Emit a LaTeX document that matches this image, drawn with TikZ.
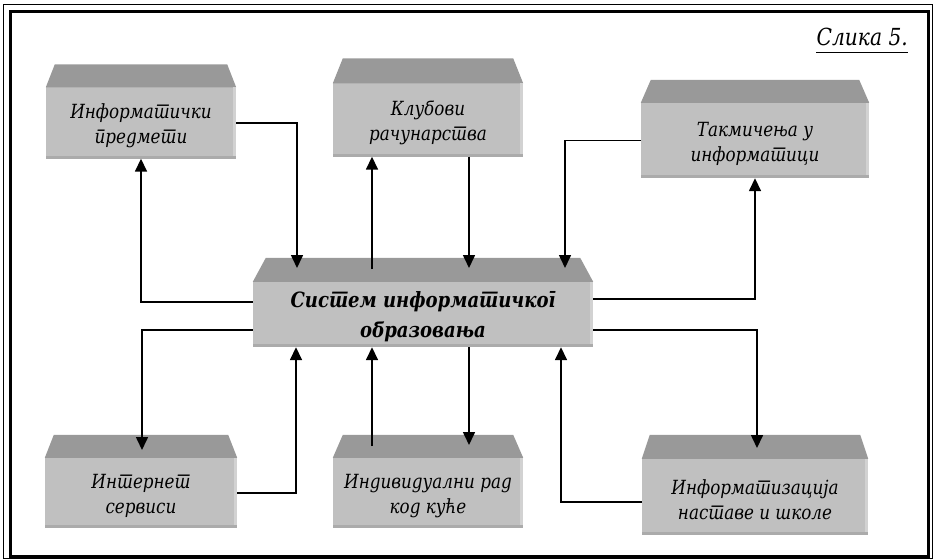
\documentclass[tikz,border=0pt]{standalone}
\usepackage{fontspec}
\setmainfont{DejaVu Serif}[Script=Cyrillic,Language=Serbian,FakeStretch=0.86]
\usetikzlibrary{arrows.meta,calc}

\definecolor{facegray}{HTML}{C0C0C0}
\definecolor{topgray}{HTML}{999999}
\definecolor{edgelight}{HTML}{D2D2D2}
\definecolor{edgedark}{HTML}{ABABAB}

% front face of a block (name, centre, size) with its label set a little low
\newcommand\blockface[8][face]{%
  \node[face, minimum width=#5pt, minimum height=#6pt] (#2) at (#3,#4) {};
  \node[#1] (#2-text) at ($(#2.center)+(0,#7)$) {#8};}
% sloped lid on top of a block and the shaded rims of its front face
\newcommand\blocklid[3]{%
  \fill[topgray] (#1.north west) -- ($(#1.north west)+(#2,-#3)$)
     -- ($(#1.north east)+(-#2,-#3)$) -- (#1.north east) -- cycle;
  \fill[edgelight] ($(#1.north east)+(-3,0)$) rectangle (#1.south east);
  \fill[edgedark] ($(#1.south west)+(0,-3)$) rectangle (#1.south east);}

\begin{document}
\begin{tikzpicture}[x=1pt,y=-1pt,
  face/.style={fill=facegray, draw=none, inner sep=0pt},
  label/.style={inner sep=0pt, align=center,
    font=\itshape\fontsize{19.5}{25}\selectfont},
  mainlabel/.style={label, font=\bfseries\itshape\fontsize{21}{30}\selectfont},
  arr/.style={line width=1.6pt, -{Triangle[length=13pt,width=12pt]}}]

\useasboundingbox (0,0) rectangle (933,559);

% page frame
\draw[line width=1.3pt] (3.5,4.5) rectangle (932.5,558.5);
\draw[line width=3pt] (10,12) rectangle (928.5,556.5);

% caption, underlined with a heavier rule
\node[font=\itshape\fontsize{23.5}{26}\selectfont, anchor=base east, inner sep=0pt]
  (caption) at (908,46) {Слика 5.};
\draw[line width=1.8pt] ([yshift=-6.5pt]caption.base west)
  -- ([yshift=-6.5pt]caption.base east);

% blocks
\blockface[label]{b1}{141}{123}{190}{71}{3}{Информатички\\предмети}
\blocklid{b1}{9}{23}
\blockface[label]{b2}{428}{120}{190}{73}{3}{Клубови\\рачунарства}
\blocklid{b2}{10}{25}
\blockface[label]{b3}{755}{140.5}{228}{75}{3}{Такмичења у\\информатици}
\blocklid{b3}{10}{23}
\blockface[mainlabel]{c}{423}{314.5}{340}{65}{2}{Систем информатичког\\образовања}
\blocklid{c}{13}{24}
\blockface[label]{b4}{141}{493}{192}{70}{3}{Интернет\\сервиси}
\blocklid{b4}{9}{23}
\blockface[label]{b5}{428}{493}{190}{70}{3}{Индивидуални рад\\код куће}
\blocklid{b5}{10}{23}
\blockface[label]{b6}{755}{497}{226}{76}{3}{Информатизација\\наставе и школе}
\blocklid{b6}{8}{24}

% connector end points on the lids and rims
\coordinate (q1) at (297,268);
\coordinate (q3) at (372,269);
\coordinate (q4) at (469,268);
\coordinate (q5) at (565,268);
\coordinate (q7) at (142,450);
\coordinate (q8) at (296,0);
\coordinate (q9) at (372,446);
\coordinate (q10) at (469,445);
\coordinate (q11) at (561,0);
\coordinate (q12) at (757,448);

% upper connectors
\draw[arr] (b1.east) -| (q1);
\draw[arr] ([yshift=12.5pt]c.west) -| (b1.south);
\draw[arr] (q3) -- (q3 |- b2.south);
\draw[arr] (q4 |- b2.south) -- (q4);
\draw[arr] (b3.west) -| (q5);
\draw[arr] ([yshift=15.5pt]c.east) -| (b3.south);

% lower connectors
\draw[arr] ([yshift=-15.5pt]c.west) -| (q7);
\draw[arr] (b4.east) -| (q8 |- c.south);
\draw[arr] (q9) -- (q9 |- c.south);
\draw[arr] (q10 |- c.south) -- (q10);
\draw[arr] ([yshift=-5pt]b6.west) -| (q11 |- c.south);
\draw[arr] ([yshift=-15.5pt]c.east) -| (q12);

\end{tikzpicture}
\end{document}
